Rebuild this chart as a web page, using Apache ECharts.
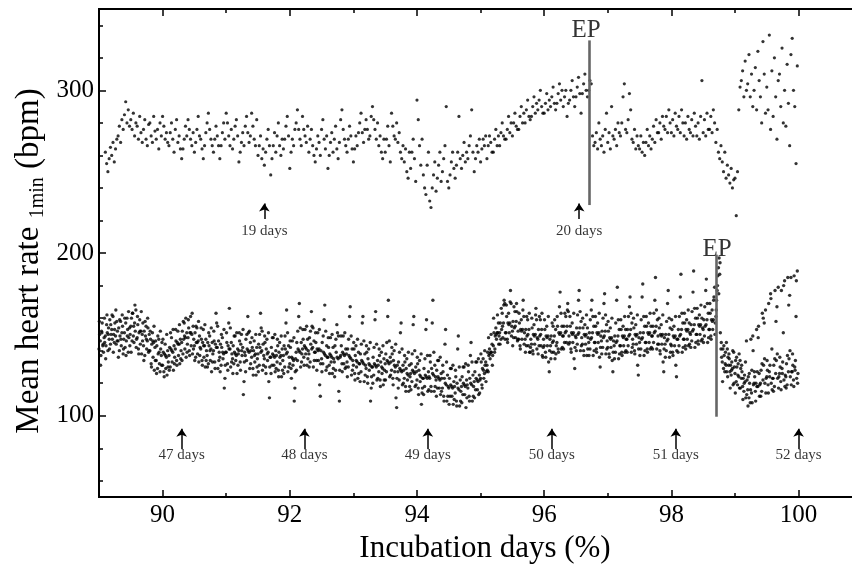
<!DOCTYPE html>
<html>
<head>
<meta charset="utf-8">
<script src="https://cdn.jsdelivr.net/npm/echarts@6.0.0/dist/echarts.min.js"></script>
<style>
html, body { margin: 0; padding: 0; background: #fff; }
#ch-main { width: 852px; height: 569px; }
</style>
</head>
<body>
<div id="ch-main"></div>
<script>
// upper recording (20-day embryo), one value every 0.02 % from 89.1
const upperStart = 89.1
const upperStep = 0.02
const upperHR = [
  262,255,250,258,265, 260,268,256,264,270, 272,278,268,282,276, 285,293,280,288,278,
  282,276,286,272,280, 278,270,284,274,268, 276,282,270,266,279, 280,272,268,284,275,
  270,276,264,280,272,
  284,278,270,274,268, 266,274,280,270,262, 276,282,268,272,264, 258,264,270,278,272,
  282,276,270,266,274, 262,268,276,284,272, 270,264,258,266,274, 280,286,276,270,266,
  262,270,278,272,266, 258,266,274,280,270,
  286,280,272,266,276, 264,270,278,282,272, 256,262,268,274,266, 278,284,274,268,272,
  286,278,270,266,282, 260,266,272,258,264, 254,262,270,276,266, 248,258,266,274,262,
  272,280,266,260,270, 264,270,278,284,272,
  252,262,270,266,276, 280,288,276,270,266, 284,276,272,268,278, 262,270,276,266,260,
  256,264,272,268,260, 276,282,270,264,272, 252,260,268,274,262, 270,278,264,258,268,
  282,288,276,270,266, 262,270,278,272,264,
  256,264,272,266,274, 280,286,274,268,276, 282,276,270,272,284, 290,282,276,270,280,
  266,272,262,258,270, 262,270,278,266,256, 286,278,272,270,280, 268,274,262,258,266,
  256,264,250,246,262, 252,262,270,258,244,
  294,282,266,254,270, 248,240,236,254,262, 232,228,240,248,256, 238,246,254,262,244,
  250,258,266,290,244, 240,248,256,262,252, 246,254,262,284,258, 252,260,268,256,262,
  258,266,272,288,262, 250,258,266,262,270,
  256,264,270,266,272, 258,266,272,268,262, 262,270,276,266,272, 266,274,280,272,270,
  270,276,284,274,280, 272,280,286,278,276, 276,284,290,280,286, 280,288,294,284,282,
  284,290,296,286,292, 288,294,300,290,286,
  286,292,298,288,294, 290,296,302,292,288, 292,298,304,294,300, 290,296,300,284,292,
  294,300,306,296,290, 296,302,308,298,286, 298,304,310,300,296, 300,306,304,272,266,
  268,274,264,280,270, 266,272,262,276,286,
  268,274,264,290,272, 270,276,266,280,274, 272,280,296,304,276, 274,282,298,288,270,
  268,276,264,272,266, 264,272,262,268,260, 268,276,266,272,264, 270,278,268,282,274,
  274,280,270,284,278, 276,284,274,288,280,
  274,282,272,286,278, 276,284,274,288,280, 272,280,270,284,276, 274,282,272,286,278,
  272,280,270,284,306, 274,282,272,286,276, 276,284,274,288,280, 268,276,262,258,266,
  256,250,262,246,254, 248,243,252,240,245,
  246,223,250,288,302, 306,312,296,318,300, 304,322,296,310,290, 300,314,288,324,306,
  296,280,330,310,286, 302,288,334,276,312, 284,320,296,270,306, 310,290,326,280,300,
  278,316,292,266,322, 332,300,290,255,315
]

// lower recording (52-day embryo), one value every 0.01 % from 89.0
const lowerStart = 89.0
const lowerStep = 0.01
const lowerHR = [
  141,150,146,137,152,157,143,139,148,145, 149,143,156,151,140,154,147,159,144,150,
  153,147,161,150,145,157,149,144,158,152, 146,154,140,149,158,143,151,155,138,147,
  151,142,157,146,160,153,139,148,154,150, 155,160,146,163,149,145,157,152,165,147,
  148,156,141,151,159,144,152,138,150,157, 143,152,137,149,155,141,146,154,139,150,
  140,147,132,144,151,136,145,128,142,146, 134,143,129,138,147,132,127,141,137,145,
  131,139,127,138,144,129,136,125,140,133, 137,142,130,141,148,133,139,128,143,136,
  141,146,134,145,152,137,144,132,147,140, 145,152,138,147,157,141,148,136,151,144,
  148,154,140,151,161,143,150,138,155,147, 143,151,136,145,154,138,146,133,149,142,
  141,147,134,145,153,136,143,130,147,140, 137,145,132,143,149,134,141,127,145,138,
  140,146,133,144,163,157,142,129,146,139, 136,144,131,142,148,135,138,117,123,139,
  139,145,132,143,157,166,141,130,145,138, 135,143,132,139,149,134,137,126,141,138,
  140,146,133,144,150,137,142,113,121,139, 137,147,134,141,161,151,139,129,145,140,
  136,142,129,140,146,133,138,125,142,135, 138,144,131,142,163,154,140,128,144,137,
  135,145,130,141,147,134,139,121,111,136, 136,142,131,138,148,131,136,127,140,137,
  133,143,128,139,145,132,137,124,141,134, 137,143,130,141,157,165,139,127,143,136,
  132,142,129,136,146,131,134,109,117,135, 139,145,134,141,161,169,139,130,145,138,
  141,147,136,143,153,138,141,131,147,140, 138,148,133,144,164,155,142,130,146,139,
  139,145,134,141,151,134,141,119,112,140, 135,145,132,139,159,168,137,128,143,136,
  136,142,131,138,148,133,136,126,142,135, 133,143,128,139,156,151,135,115,109,136,
  137,143,132,139,149,132,137,129,141,138, 133,141,130,137,161,167,135,125,141,134,
  131,141,126,137,143,130,133,123,139,132, 132,138,127,134,157,161,132,121,138,131,
  129,139,124,135,141,128,131,109,117,130, 130,136,125,132,159,164,130,122,134,131,
  127,137,122,133,139,126,129,119,135,128, 132,138,127,134,161,171,132,124,136,133,
  128,138,123,134,140,127,130,111,105,131, 127,133,122,129,151,157,127,119,131,128,
  123,133,118,129,135,122,125,115,131,124, 126,132,121,128,156,161,126,118,130,127,
  122,132,117,128,134,121,124,107,114,123, 123,129,118,125,153,159,123,115,127,124,
  123,133,118,129,157,171,125,115,131,124, 122,128,117,124,134,117,122,113,126,123,
  117,127,112,123,144,153,119,109,125,118, 117,123,112,119,129,112,117,107,121,118,
  114,124,109,120,141,149,116,106,122,115, 118,124,113,120,130,113,118,105,122,119,
  117,127,112,123,137,145,119,109,125,118, 121,127,116,123,133,116,121,113,125,122,
  123,133,119,129,135,123,126,131,133,127, 131,139,127,137,141,135,139,139,144,137,
  143,151,139,149,154,147,151,151,157,149, 151,157,147,153,163,148,157,171,169,151,
  151,161,147,157,163,151,157,177,169,155, 152,158,148,154,164,148,158,164,146,152,
  147,157,143,153,159,147,153,171,161,151, 147,153,143,149,159,143,153,139,139,147,
  144,154,140,150,156,144,150,166,159,148, 147,153,143,149,159,143,153,137,136,147,
  143,153,139,149,155,143,149,133,127,147, 143,149,139,145,155,139,149,135,153,143,
  145,155,141,151,167,176,151,141,155,149, 149,155,145,151,161,145,155,169,164,149,
  145,155,141,151,157,145,151,135,129,149, 148,154,144,150,171,177,154,140,158,148,
  144,154,140,150,156,144,150,137,154,148, 145,151,141,147,165,171,151,137,155,145,
  145,155,141,151,157,145,151,136,130,149, 146,152,142,148,169,175,152,138,156,146,
  142,152,138,148,154,142,148,134,127,146, 143,149,139,145,171,179,149,135,153,143,
  143,153,139,149,155,143,149,139,153,147, 147,153,143,149,167,173,153,139,157,147,
  144,154,140,150,156,144,150,131,125,148, 145,151,141,147,173,181,151,137,155,145,
  145,155,141,151,157,145,151,141,155,149, 149,155,145,151,171,185,155,141,159,149,
  144,154,140,150,156,144,150,133,127,148, 144,150,140,146,169,177,150,136,154,144,
  143,153,139,149,155,143,149,131,124,147, 147,153,143,149,173,187,153,139,157,147,
  147,157,143,153,159,147,153,143,157,151, 150,156,146,152,176,189,156,142,160,150,
  150,160,146,156,162,150,156,146,160,154, 153,159,149,155,177,184,159,145,163,153,
  153,163,149,159,165,153,159,173,179,157, 161,171,177,186,191,197,187,151,141,136,
  133,141,129,137,127,139,131,127,141,136, 131,135,127,131,125,133,129,119,139,130,
  126,134,121,130,119,132,124,117,134,129, 123,127,118,123,115,125,121,111,146,122,
  116,124,111,120,108,147,114,108,149,119, 120,124,115,120,153,127,118,155,126,119,
  120,128,115,163,122,131,157,120,165,123, 124,128,119,169,127,131,175,120,141,123,
  123,131,118,177,126,134,167,123,179,124, 126,130,121,177,129,133,151,122,183,125,
  124,132,119,185,127,135,174,124,185,127, 127,131,122,186,130,134,161,123,189,126
]

// second pass over the same lower band, read every 0.02 % from 89.005
const lowerStartB = 89.005
const lowerStepB = 0.02
const lowerHRB = [
  158,131,151,144,160, 135,162,150,141,156, 162,139,153,165,146, 136,159,147,162,141,
  160,137,149,164,143, 139,163,155,168,142, 161,138,152,164,146, 134,158,147,160,140,
  152,130,146,155,134, 126,149,139,152,131,
  147,124,137,150,130, 128,151,140,153,132, 153,131,144,156,135, 134,158,149,160,139,
  159,137,151,163,141, 134,155,145,158,137, 154,131,143,156,134, 130,151,140,154,133,
  152,129,142,155,134, 127,150,139,153,131,
  151,128,141,154,133, 126,149,138,151,131, 151,128,140,153,133, 127,150,140,152,132,
  148,125,137,150,130, 127,150,139,152,131, 149,126,138,151,130, 126,148,137,150,129,
  147,124,136,149,128, 126,149,138,151,130,
  146,123,135,148,127, 128,152,140,154,133, 153,131,142,155,135, 130,152,141,154,134,
  151,128,140,153,132, 127,149,138,152,130, 148,126,137,150,129, 124,147,136,149,128,
  149,127,138,151,130, 124,147,136,149,128,
  145,122,134,147,126, 121,144,133,146,125, 143,120,132,145,124, 120,142,131,144,123,
  141,118,130,143,122, 122,145,133,146,125, 142,119,131,144,123, 117,139,128,141,120,
  137,115,126,139,118, 116,138,127,140,119,
  136,113,125,138,117, 113,135,124,137,116, 137,115,126,139,118, 112,134,123,136,115,
  131,109,120,133,112, 107,129,118,131,110, 128,106,117,130,109, 108,130,119,132,111,
  131,109,120,133,112, 111,133,122,135,114,
  138,117,128,140,121, 128,148,138,150,131, 160,141,150,162,144, 144,166,155,168,147,
  168,145,156,170,149, 143,167,155,169,147, 163,141,152,165,144, 139,161,150,163,142,
  160,138,149,162,141, 138,161,150,163,142,
  159,136,148,161,140, 135,157,146,159,138, 161,139,150,163,142, 141,163,152,165,144,
  161,139,150,163,142, 140,162,151,164,143, 160,137,149,162,141, 137,159,148,161,140,
  161,139,150,163,142, 138,160,149,162,141,
  158,136,147,160,139, 135,157,146,159,138, 159,137,148,161,140, 139,161,150,163,142,
  160,138,149,162,141, 137,159,148,161,140, 161,139,150,163,142, 141,163,152,165,144,
  160,138,149,162,141, 136,158,147,160,139,
  159,137,148,161,140, 139,161,150,163,142, 163,141,152,165,144, 142,164,153,166,145,
  166,144,155,168,147, 145,167,156,169,148, 169,147,158,171,150, 165,180,175,194,145,
  121,143,132,145,124, 138,117,128,140,120,
  114,136,125,138,117, 131,110,120,133,113, 106,126,116,128,140, 127,109,118,148,112,
  112,132,160,135,114, 134,114,124,172,116, 115,135,158,138,117, 136,116,126,180,118,
  117,137,168,140,119, 138,118,128,183,120
]

// arrows marking the incubation day, and the EP (external pipping) lines
const upperDays = ['19 days', '20 days']
const upperDayX = [91.6, 96.55]
const lowerDays = ['47 days', '48 days', '49 days', '50 days', '51 days', '52 days']
const lowerDayX = [90.3, 92.23, 94.17, 96.12, 98.07, 100.0]
const epX = [96.71, 98.71]
const epFrom = [229.5, 99.4]
const epTo = [330.7, 199]
const epLabelX = [96.66, 98.72]
const epLabelY = [337, 202.5]

const xMajor = [90, 92, 94, 96, 98, 100]
const xMinor = [91, 93, 95, 97, 99]
const yMajor = [100, 200, 300]
const yMinor = [60, 80, 120, 140, 160, 180, 220, 240, 260, 280, 320, 340]

const serif = "'Liberation Serif', 'Times New Roman', serif"

let main = echarts.init(document.getElementById('ch-main'))

let upperData = upperHR.map((v, i) => [upperStart + i * upperStep, v])
let lowerData = lowerHR.map((v, i) => [lowerStart + i * lowerStep, v])
    .concat(lowerHRB.map((v, i) => [lowerStartB + i * lowerStepB, v]))

let arrowLines = []
upperDayX.forEach(x => arrowLines.push([{ coord: [x, 221] }, { coord: [x, 230.5] }]))
lowerDayX.forEach(x => arrowLines.push([{ coord: [x, 79.5] }, { coord: [x, 92] }]))

let epLines = epX.map((x, i) => [{ coord: [x, epFrom[i]] }, { coord: [x, epTo[i]] }])

let dayText = upperDays.map((t, i) => [upperDayX[i], 213.6, t])
    .concat(lowerDays.map((t, i) => [lowerDayX[i], 75.9, t]))
let epText = epLabelX.map((x, i) => [x, epLabelY[i], 'EP'])

function xAxisOf(position, ticks, len, labels) {
    return {
        type: 'value', min: 89, max: 100.84, position: position,
        axisLine: { show: true, lineStyle: { color: '#000', width: 2 } },
        axisTick: { show: true, inside: true, length: len, customValues: ticks, lineStyle: { color: '#000', width: 1.5 } },
        axisLabel: labels ? { customValues: xMajor, fontFamily: serif, fontSize: 25, color: '#000', margin: 6 } : { show: false },
        splitLine: { show: false }
    }
}

function yAxisOf(ticks, len, labels) {
    return {
        type: 'value', min: 50, max: 350, position: 'left',
        axisLine: { show: true, lineStyle: { color: '#000', width: 2 } },
        axisTick: { show: true, inside: true, length: len, customValues: ticks, lineStyle: { color: '#000', width: 1.5 } },
        axisLabel: labels ? { customValues: yMajor, fontFamily: serif, fontSize: 25, color: '#000', margin: 5 } : { show: false },
        splitLine: { show: false }
    }
}

let bottomAxis = xAxisOf('bottom', xMajor, 7, true)
bottomAxis.name = 'Incubation days (%)'
bottomAxis.nameLocation = 'middle'
bottomAxis.nameGap = 27
bottomAxis.nameTextStyle = { fontFamily: serif, fontSize: 31, color: '#000', padding: [0, 0, 0, 19] }

let option = {
    animation: false,
    backgroundColor: '#fff',
    grid: { left: 99, right: 0, top: 9, bottom: 62, containLabel: false },
    xAxis: [
        bottomAxis,
        xAxisOf('bottom', xMinor, 4, false),
        xAxisOf('top', xMajor, 7, false),
        xAxisOf('top', xMinor, 4, false)
    ],
    yAxis: [
        yAxisOf(yMajor, 7, true),
        yAxisOf(yMinor, 4, false)
    ],
    graphic: [{
        type: 'text', x: 29, y: 261, rotation: Math.PI / 2,
        style: {
            text: '{a|Mean heart rate }{b|1min}{a| (bpm)}',
            align: 'center', verticalAlign: 'middle', fill: '#000',
            rich: {
                a: { fontFamily: serif, fontSize: 33, lineHeight: 38, fill: '#000' },
                b: { fontFamily: serif, fontSize: 20, lineHeight: 17, verticalAlign: 'bottom', fill: '#000' }
            }
        }
    }],
    series: [
        {
            name: 'upper', type: 'scatter', data: upperData,
            symbolSize: 3.2, itemStyle: { color: '#000' }, silent: true,
            markLine: {
                silent: true, symbol: ['none', 'arrow'], symbolSize: 8,
                label: { show: false },
                lineStyle: { color: '#000', width: 1.5, type: 'solid' },
                data: arrowLines
            },
            z: 3
        },
        {
            name: 'lower', type: 'scatter', data: lowerData,
            symbolSize: 3.4, itemStyle: { color: '#000' }, silent: true,
            markLine: {
                silent: true, symbol: 'none',
                label: { show: false },
                lineStyle: { color: '#666', width: 2.6, type: 'solid' },
                data: epLines
            },
            z: 2
        },
        {
            name: 'days', type: 'scatter', data: dayText, symbolSize: 0, silent: true,
            label: { show: true, position: 'inside', formatter: p => p.value[2], fontFamily: serif, fontSize: 15, color: '#000' }
        },
        {
            name: 'ep', type: 'scatter', data: epText, symbolSize: 0, silent: true,
            label: { show: true, position: 'inside', formatter: p => p.value[2], fontFamily: serif, fontSize: 25, color: '#000' }
        }
    ]
}

main.setOption(option)
</script>
</body>
</html>
